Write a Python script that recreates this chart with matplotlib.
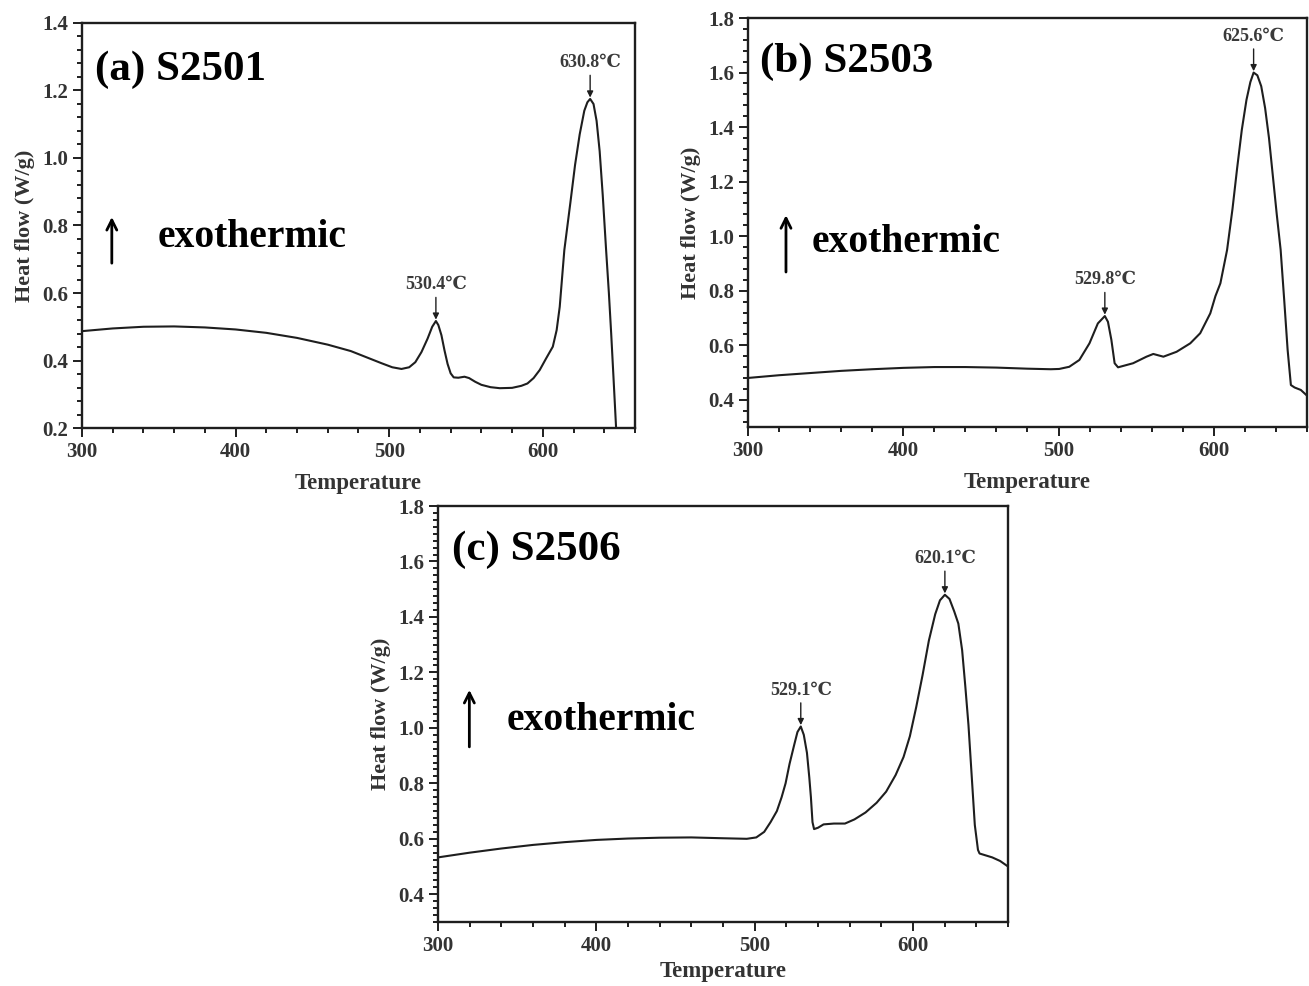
import matplotlib as mpl
mpl.use('Agg')
import matplotlib.pyplot as plt
from matplotlib.ticker import MultipleLocator

#
#--- DSC curves (temperature / heat flow)
#
temp_a = [300, 320, 340, 360, 380, 400, 420, 440, 460, 475, 485, 495, 502, 508, 513, 517,
          521, 525, 528, 530.4, 532, 534, 536, 538, 540, 542, 545, 549, 552, 556, 560, 566,
          572, 580, 586, 590, 594, 598, 602, 606.5, 609, 611, 614, 618, 621, 624, 627, 629,
          630.8, 633, 635, 637, 639, 641.2, 643, 644.5, 646, 647.7]
heat_a = [0.487, 0.495, 0.500, 0.501, 0.498, 0.492, 0.482, 0.467, 0.447, 0.428, 0.410, 0.392,
          0.380, 0.375, 0.380, 0.395, 0.425, 0.465, 0.500, 0.517, 0.505, 0.475, 0.430, 0.390,
          0.362, 0.350, 0.349, 0.352, 0.348, 0.337, 0.328, 0.321, 0.318, 0.319, 0.325, 0.332,
          0.348, 0.372, 0.405, 0.441, 0.490, 0.559, 0.727, 0.870, 0.980, 1.070, 1.140, 1.165,
          1.175, 1.160, 1.110, 1.020, 0.890, 0.727, 0.600, 0.480, 0.350, 0.200]

temp_b = [300, 320, 340, 360, 380, 400, 420, 440, 460, 480, 495, 500.4, 506.9, 513.4, 519.9,
          525.3, 529.8, 531.8, 534, 536.1, 538.3, 548, 556.6, 561, 567.5, 576, 584.8, 591.2,
          597.7, 601, 604.2, 608.5, 612, 615, 618, 621, 623.5, 625.6, 628, 630.5, 633, 635.5,
          638, 640.5, 643, 645.3, 647.5, 649.6, 652, 656, 660]
heat_b = [0.480, 0.490, 0.498, 0.506, 0.512, 0.517, 0.520, 0.520, 0.518, 0.514, 0.512, 0.513,
          0.521, 0.546, 0.607, 0.680, 0.707, 0.686, 0.620, 0.534, 0.519, 0.534, 0.558, 0.568,
          0.558, 0.576, 0.607, 0.644, 0.717, 0.780, 0.827, 0.949, 1.100, 1.250, 1.390, 1.500,
          1.565, 1.600, 1.590, 1.550, 1.470, 1.360, 1.220, 1.080, 0.950, 0.766, 0.583, 0.454,
          0.445, 0.436, 0.415]

temp_c = [300, 320, 340, 360, 380, 400, 420, 440, 460, 480, 495, 501, 506, 510, 514, 517,
          519.5, 522, 525, 527, 529.1, 531, 533, 534.5, 535.5, 536.5, 537.5, 540, 543.5, 550,
          557, 563, 570, 577, 583, 589, 594, 598, 602, 606, 610, 614, 617, 620.1, 623, 626,
          628.6, 631, 633, 635, 637, 639, 641, 642, 646, 650, 655, 660]
heat_c = [0.533, 0.550, 0.565, 0.578, 0.588, 0.596, 0.601, 0.604, 0.605, 0.602, 0.600, 0.605,
          0.625, 0.660, 0.700, 0.750, 0.800, 0.870, 0.940, 0.985, 1.005, 0.975, 0.910, 0.820,
          0.750, 0.660, 0.635, 0.640, 0.652, 0.655, 0.655, 0.670, 0.695, 0.730, 0.770, 0.830,
          0.895, 0.970, 1.075, 1.190, 1.315, 1.410, 1.460, 1.480, 1.465, 1.420, 1.376, 1.280,
          1.150, 1.010, 0.830, 0.650, 0.560, 0.547, 0.540, 0.533, 0.520, 0.500]

#
#--- peak labels and panel names
#
peaks_a = [(530.4, 0.517, '530.4℃'), (630.8, 1.175, '630.8℃')]
peaks_b = [(529.8, 0.707, '529.8℃'), (625.6, 1.600, '625.6℃')]
peaks_c = [(529.1, 1.005, '529.1℃'), (620.1, 1.480, '620.1℃')]

SERIF = ['Liberation Serif', 'DejaVu Serif']

#---------------------------------------------------------------------------------------
#-- draw_panel: draw one dsc panel                                                    --
#---------------------------------------------------------------------------------------

def draw_panel(ax, temp, heat, ylim, ymajor, yminor, name, name_pos, peaks, exo_txt, exo_arr,
               xpad=8):

    ax.plot(temp, heat, color='#1e1e1e', lw=1.5)

    ax.set_xlim(300, 660)
    ax.set_ylim(*ylim)
    ax.xaxis.set_major_locator(MultipleLocator(100))
    ax.xaxis.set_minor_locator(MultipleLocator(20))
    ax.set_yticks(ymajor)
    ax.yaxis.set_minor_locator(MultipleLocator(yminor))
    ax.tick_params(which='both', direction='out', top=False, right=False, width=1.4,
                   color='#1e1e1e')
    ax.tick_params(which='major', length=6.5)
    ax.tick_params(which='minor', length=3.5)
    for sp in ax.spines.values():
        sp.set_linewidth(1.7)
        sp.set_color('#1e1e1e')

    for lab in ax.get_xticklabels() + ax.get_yticklabels():
        lab.set_fontfamily(SERIF)
        lab.set_fontweight('bold')
        lab.set_fontsize(15)
        lab.set_color('#333333')

    ax.set_xlabel('Temperature', family=SERIF, weight='bold', size=16.5, color='#333333',
                  labelpad=xpad)
    ax.set_ylabel('Heat flow (W/g)', family=SERIF, weight='bold', size=16, color='#333333',
                  labelpad=5)
#
#--- panel name and exothermic marker
#
    ax.text(name_pos[0], name_pos[1], name, transform=ax.transAxes, family=SERIF,
            weight='bold', size=31, va='baseline', ha='left')
    ax.text(exo_txt[0], exo_txt[1], 'exothermic', transform=ax.transAxes, family=SERIF,
            weight='bold', size=28.5, va='baseline', ha='left')
    ax.annotate('', xy=(exo_arr[0], exo_arr[1]), xytext=(exo_arr[0], exo_arr[2]),
                xycoords='axes fraction', textcoords='axes fraction',
                arrowprops=dict(arrowstyle='->', lw=2.0, color='black', mutation_scale=18,
                                shrinkA=0, shrinkB=0))
#
#--- peak labels with small arrows
#
    for px, py, txt in peaks:
        ax.annotate(txt, xy=(px, py), xytext=(0, 20), textcoords='offset points',
                    ha='center', va='bottom', family=SERIF, size=13, weight='bold',
                    color='#3a3a3a',
                    arrowprops=dict(arrowstyle='-|>', lw=1.0, color='#1e1e1e',
                                    mutation_scale=9, shrinkA=1, shrinkB=1))

#---------------------------------------------------------------------------------------

fig = plt.figure(figsize=(13.09, 9.86), dpi=100)

ax_a = fig.add_axes([0.0626, 0.5659, 0.4225, 0.4108])
ax_b = fig.add_axes([0.5714, 0.5669, 0.4271, 0.4148])
ax_c = fig.add_axes([0.3346, 0.0649, 0.4355, 0.4219])

draw_panel(ax_a, temp_a, heat_a, (0.2, 1.4), [0.2, 0.4, 0.6, 0.8, 1.0, 1.2, 1.4], 0.04,
           '(a) S2501', (0.024, 0.859), peaks_a, (0.137, 0.447), (0.054, 0.521, 0.407))
draw_panel(ax_b, temp_b, heat_b, (0.3, 1.8), [0.4, 0.6, 0.8, 1.0, 1.2, 1.4, 1.6, 1.8], 0.04,
           '(b) S2503', (0.022, 0.868), peaks_b, (0.113, 0.428), (0.068, 0.518, 0.379))
draw_panel(ax_c, temp_c, heat_c, (0.3, 1.8), [0.4, 0.6, 0.8, 1.0, 1.2, 1.4, 1.6, 1.8], 0.025,
           '(c) S2506', (0.025, 0.870), peaks_c, (0.121, 0.4615), (0.055, 0.558, 0.421),
           xpad=4)

fig.savefig('out.png', dpi=100)
plt.close('all')
